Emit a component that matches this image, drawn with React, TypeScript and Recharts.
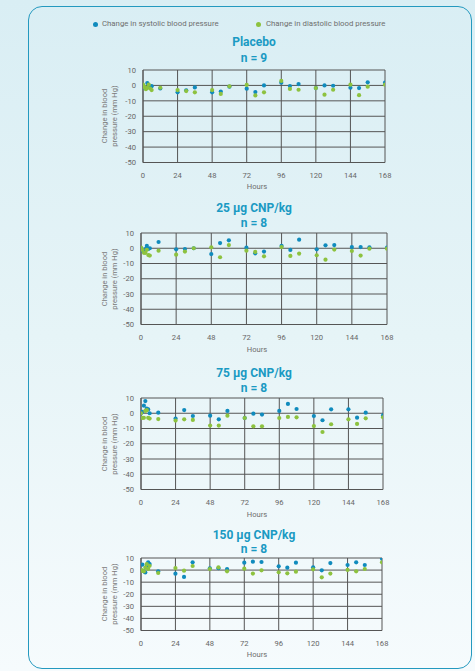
import React from 'react';
import { ScatterChart, Scatter, XAxis, YAxis, CartesianGrid } from 'recharts';

const hours = [0, 1, 2, 3, 4, 5, 6, 12, 24, 30, 36, 48, 54, 60, 72, 78, 84, 96, 102, 108, 120, 126, 132, 144, 150, 156, 168];
const xTicks = [0, 24, 48, 72, 96, 120, 144, 168];
const yTicks = [-50, -40, -30, -20, -10, 0, 10];

const placeboSys = [0, -1.5, -2, 1.5, -0.5, -1, -0.5, -2, -4.5, -3.2, -1.3, -4.5, -4, -0.8, -2.1, -4.3, 0, 1.8, -0.4, 0.9, -1.7, 0, -0.2, -1.5, -1.7, 2, 1.8];
const placeboDia = [0.5, -1, -2.5, -1.5, 0.5, -2, -3, -1.5, -3, -3.7, -4.5, -3, -5.5, -0.6, 0.3, -6.5, -4.5, 2.9, -2.3, -2.8, -1.7, -6, -2.8, 0.5, -6.3, -0.8, 0.5];

const d25Sys = [0, -1.5, -1, -0.5, 1.5, -0.5, 0, 4.1, -0.7, -0.5, 0, -3.8, 3.4, 5.2, 0.4, -3.3, -2.2, 1.5, -1.1, 5.6, -0.7, 1.9, 2.1, 0.8, 0.8, 0.6, 0.4];
const d25Dia = [0.5, -1, -3, -3, -1, -4.5, -4.8, -1.6, -4.2, -2.2, 0, 0.6, -5.9, 2.1, -1.6, -2.4, -5.3, 0.8, -5, -3.5, -4.6, -7.5, -0.9, -1.8, -4.8, -0.3, -0.3];

const d75Sys = [0, 1, 5, 8, 3, 2.5, 0, 0.4, -3.5, 2.1, -1.8, -1.6, -4, 1.5, -3.1, -0.3, -0.9, 1.5, 6.1, 2.8, -1.8, -4.6, 2.6, 2.6, -2.9, 0.4, -1.4];
const d75Dia = [0, -3, -3, 1.5, 2, -3, -3.5, -3.8, -4.8, -4, -4.4, -8.1, -8.1, -1.6, -3.1, -8.6, -8.6, -3.1, -2.4, -2.7, -8.4, -12.3, -7.2, -4, -7, -3.3, -2.7];

const d150Sys = [0, 4.5, -1, -2, 3, 6.5, 5, -1, -3, -5.7, 6.4, 1.5, 1.5, 0.9, 6.1, 7, 6.7, 3.1, 2, 6.1, 2.3, -0.2, 5.8, 4.2, 6.4, 4.2, 9.4];
const d150Dia = [0, -0.5, -1, 2, 5, 1, 3.5, -2.4, 1.7, -0.5, 3.4, 0.9, 2.3, -1, 1.2, -2.9, -0.2, -1.8, -2.7, -1.3, 0.6, -6, -2.9, 0.1, -1, 0.9, 6.4];

const titles = ['Placebo', '25 µg CNP/kg', '75 µg CNP/kg', '150 µg CNP/kg'];
const nLabels = ['n = 9', 'n = 8', 'n = 8', 'n = 8'];

const BLUE = '#108bbd';
const GREEN = '#8dc23f';
const TEAL = '#1a9ac3';
const FONT = 'Roboto, "Noto Sans", sans-serif';

type Geo = { L: number; R: number; T: number; B: number; t1: number; t2: number };
const geos: Geo[] = [
  { L: 143, R: 385, T: 69.5, B: 162, t1: 42, t2: 58 },
  { L: 141, R: 387, T: 233, B: 324.5, t1: 208, t2: 223 },
  { L: 141, R: 383, T: 398, B: 489.5, t1: 373, t2: 388 },
  { L: 141, R: 382, T: 557.5, B: 630, t1: 535, t2: 549 },
];

const toPts = (vals: number[]) => hours.map((h, i) => ({ x: h, y: vals[i] }));

const Dot = (color: string) => (props: any) => (
  <circle cx={props.cx} cy={props.cy} r={2.1} fill={color} />
);

const centered = (x: number, y: number): React.CSSProperties => ({
  position: 'absolute',
  left: x,
  top: y,
  transform: 'translate(-50%, -50%)',
  whiteSpace: 'nowrap',
  lineHeight: 1,
});

function Panel({ g, title, n, sys, dia }: { g: Geo; title: string; n: string; sys: number[]; dia: number[] }) {
  const top = g.T - 10;
  const h = g.B - g.T + 10 + 40;
  return (
    <>
      <div style={{ ...centered(254, g.t1), color: TEAL, fontWeight: 700, fontSize: 12, fontFamily: FONT }}>{title}</div>
      <div style={{ ...centered(254, g.t2), color: TEAL, fontWeight: 700, fontSize: 12, fontFamily: FONT }}>{n}</div>
      <div
        style={{
          position: 'absolute',
          left: 110,
          top: (g.T + g.B) / 2,
          transform: 'translate(-50%, -50%) rotate(-90deg)',
          whiteSpace: 'nowrap',
          textAlign: 'center',
          fontSize: 7.6,
          lineHeight: '10px',
          color: '#7a7a7a',
          fontFamily: FONT,
        }}
      >
        Change in blood
        <br />
        pressure (mm Hg)
      </div>
      <div style={{ ...centered(257, g.B + 25), fontSize: 7.6, color: '#6e6e6e', fontFamily: FONT }}>Hours</div>
      <div style={{ position: 'absolute', left: 0, top }}>
        <ScatterChart width={g.R + 10} height={h} margin={{ top: 10, right: 10, bottom: 0, left: 0 }}>
          <CartesianGrid
            stroke="#555"
            strokeWidth={1}
            fill="none"
            horizontalValues={yTicks}
            verticalValues={xTicks}
          />
          <XAxis
            type="number"
            dataKey="x"
            domain={[0, 168]}
            ticks={xTicks}
            interval={0}
            height={40}
            tickSize={0}
            tickMargin={10}
            tickLine={false}
            axisLine={{ stroke: '#555' }}
            tick={{ fontSize: 7.6, fill: '#666', fontFamily: FONT }}
            allowDataOverflow
          />
          <YAxis
            type="number"
            dataKey="y"
            domain={[-50, 10]}
            ticks={yTicks}
            interval={0}
            width={g.L}
            tickSize={0}
            tickMargin={7}
            tickLine={false}
            axisLine={{ stroke: '#555' }}
            tick={{ fontSize: 7.6, fill: '#666', fontFamily: FONT }}
            allowDataOverflow
          />
          <Scatter data={toPts(sys)} fill={BLUE} shape={Dot(BLUE)} isAnimationActive={false} />
          <Scatter data={toPts(dia)} fill={GREEN} shape={Dot(GREEN)} isAnimationActive={false} />
        </ScatterChart>
      </div>
    </>
  );
}

export default function App() {
  const series = [
    [placeboSys, placeboDia],
    [d25Sys, d25Dia],
    [d75Sys, d75Dia],
    [d150Sys, d150Dia],
  ];
  return (
    <div
      style={{
        position: 'absolute',
        left: 0,
        top: 0,
        width: 475,
        height: 671,
        overflow: 'hidden',
        background: 'linear-gradient(to bottom, #d9eef4 0%, #e6f4f7 50%, #f6fbfd 100%)',
        fontFamily: FONT,
      }}
    >
      <div
        style={{
          position: 'absolute',
          left: 28,
          top: 6,
          width: 444,
          height: 663,
          boxSizing: 'border-box',
          border: '1.5px solid #2499bf',
          borderRadius: 14,
        }}
      />
      <div style={{ position: 'absolute', left: 92.5, top: 21.8, width: 5, height: 5, borderRadius: '50%', background: BLUE }} />
      <div style={{ position: 'absolute', left: 102, top: 24.3, transform: 'translateY(-50%)', fontSize: 7.8, lineHeight: 1, color: '#6e6e6e', whiteSpace: 'nowrap' }}>
        Change in systolic blood pressure
      </div>
      <div style={{ position: 'absolute', left: 256.2, top: 21.8, width: 5, height: 5, borderRadius: '50%', background: GREEN }} />
      <div style={{ position: 'absolute', left: 266, top: 24.3, transform: 'translateY(-50%)', fontSize: 7.8, lineHeight: 1, color: '#6e6e6e', whiteSpace: 'nowrap' }}>
        Change in diastolic blood pressure
      </div>
      {geos.map((g, i) => (
        <Panel key={i} g={g} title={titles[i]} n={nLabels[i]} sys={series[i][0]} dia={series[i][1]} />
      ))}
    </div>
  );
}
